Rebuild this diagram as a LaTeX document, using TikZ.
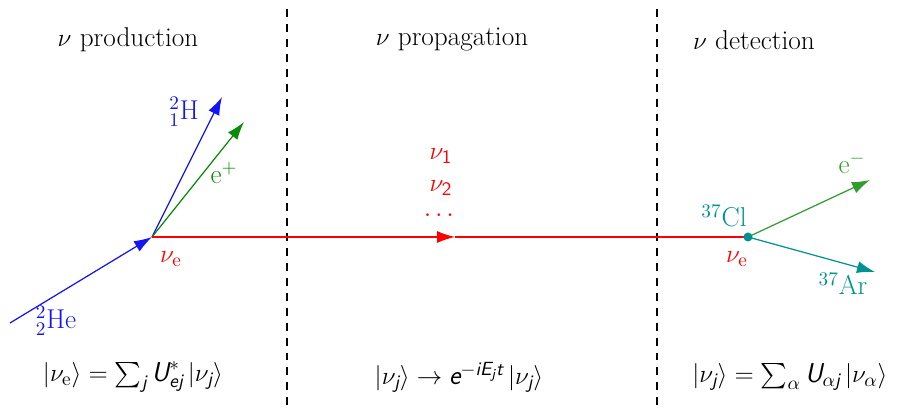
\documentclass[tikz,border=0pt]{standalone}
\usepackage{amsmath}
\usetikzlibrary{arrows.meta}
\definecolor{nublue}{RGB}{20,20,245}
\definecolor{nugreen}{RGB}{10,140,10}
\definecolor{nuteal}{RGB}{0,145,145}
\newcommand{\sfi}[1]{\text{\sffamily\itshape #1}}
\tikzstyle{lbl}=[font=\fontsize{15.5}{18}\selectfont, inner sep=1pt]
\tikzstyle{ptcl}=[line width=0.7pt,-{Latex[length=3.6mm,width=2.4mm]}]
\tikzstyle{sep}=[black, line width=0.6pt, dash pattern=on 4.5pt off 4pt]

\begin{document}
\begin{tikzpicture}
				\useasboundingbox (0,0) rectangle (18,8.18);
				\draw[sep] (5.74,8.0) -- (5.74,0);
				\draw[sep] (13.14,8.0) -- (13.14,0);
				\node[lbl] (tprod) at (2.56,7.38) {$\nu$ production};
				\node[lbl] (tprop) at (9.04,7.38) {$\nu$ propagation};
				\node[lbl] (tdet) at (15.08,7.38) {$\nu$ detection};
				\coordinate (he) at (0.2,1.72);
				\coordinate (A) at (3.04,3.44);
				\coordinate (h) at (4.44,6.24);
				\coordinate (ep) at (4.88,5.74);
				\coordinate (M) at (9.1,3.44);
				\coordinate (B) at (14.96,3.44);
				\coordinate (em) at (17.4,4.58);
				\coordinate (ar) at (17.5,2.74);
				\draw[ptcl, nublue] (he) -- (A);
				\draw[ptcl, nublue] (A) -- (h);
				\draw[ptcl, nugreen] (A) -- (ep);
				\draw[ptcl, red] (A) -- (M);
				\draw[red, line width=0.7pt] (M) -- (B);
				\draw[ptcl, nugreen!85!white] (B) -- (em);
				\draw[ptcl, nuteal] (B) -- (ar);
				\fill[nuteal] (B) circle (0.09);
				\node[lbl, nublue] (lhe) at (1.12,1.76) {${}^2_2$He};
				\node[lbl, nublue] (lh) at (3.68,5.94) {${}^2_1$H};
				\node[lbl, nugreen] (lep) at (4.48,4.72) {e$^+$};
				\node[lbl, red] (lnua) at (3.42,3.0) {$\nu_{\mathrm{e}}$};
				\node[lbl, red] (lnu1) at (8.82,5.06) {$\nu_{\textsf{1}}$};
				\node[lbl, red] (lnu2) at (8.82,4.42) {$\nu_{\textsf{2}}$};
				\node[lbl, red] (ldots) at (8.82,3.86) {$\cdots$};
				\node[lbl, nuteal] (lcl) at (14.48,3.86) {${}^{37}$Cl};
				\node[lbl, red] (lnub) at (14.74,3.0) {$\nu_{\mathrm{e}}$};
				\node[lbl, nugreen!85!white] (lem) at (17.04,4.92) {e$^-$};
				\node[lbl, nuteal] (lar) at (16.86,2.5) {${}^{37}$Ar};
				\node[lbl] (fprod) at (2.66,0.64) {$|\nu_{\mathrm{e}}\rangle = \sum_{\sfi{j}} \sfi{U}^*_{\sfi{ej}}\,|\nu_{\sfi{j}}\rangle$};
				\node[lbl] (fprop) at (9.18,0.64) {$|\nu_{\sfi{j}}\rangle \to \sfi{e}^{-\sfi{iE}_{\sfi{j}}\sfi{t}}\,|\nu_{\sfi{j}}\rangle$};
				\node[lbl] (fdet) at (15.8,0.64) {$|\nu_{\sfi{j}}\rangle = \sum_{\alpha} \sfi{U}_{\alpha \sfi{j}}\,|\nu_{\alpha}\rangle$};
			\end{tikzpicture}
\end{document}
